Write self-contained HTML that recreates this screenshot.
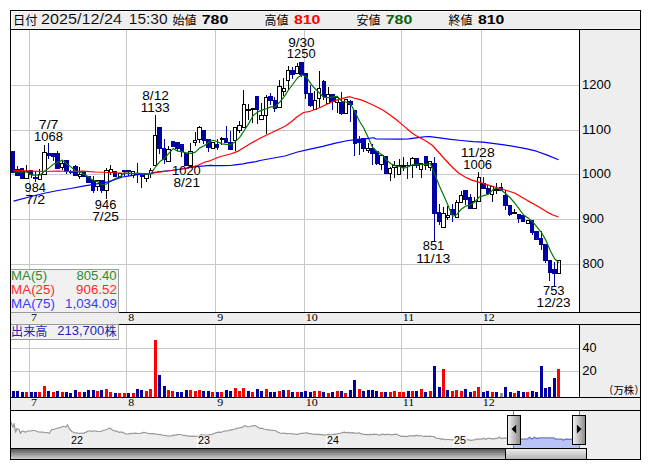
<!DOCTYPE html>
<html><head><meta charset="utf-8"><title>chart</title>
<style>html,body{margin:0;padding:0;background:#fff}svg{display:block}text{font-family:"Liberation Sans",sans-serif}</style></head>
<body>
<svg width="653" height="470" viewBox="0 0 653 470" font-family="'Liberation Sans', sans-serif">
<defs>
<linearGradient id="hdr" x1="0" y1="0" x2="0" y2="1"><stop offset="0" stop-color="#f4f4f4"/><stop offset="1" stop-color="#e9e9e9"/></linearGradient>
<linearGradient id="hnd" x1="0" y1="0" x2="1" y2="0"><stop offset="0" stop-color="#f2f2f2"/><stop offset="1" stop-color="#8c8c8c"/></linearGradient>
<linearGradient id="trk" x1="0" y1="0" x2="0" y2="1"><stop offset="0" stop-color="#4a4a4a"/><stop offset="1" stop-color="#d0d0d0"/></linearGradient>
<linearGradient id="thm" x1="0" y1="0" x2="0" y2="1"><stop offset="0" stop-color="#ececec"/><stop offset="1" stop-color="#b4b4b4"/></linearGradient>
</defs>
<rect width="653" height="470" fill="#fff"/>
<g shape-rendering="crispEdges">
<rect x="10" y="10" width="631" height="19" fill="#eeeeee"/>
<rect x="579" y="29" width="61" height="430" fill="#eeeeee"/>
<rect x="10" y="312" width="630" height="13" fill="#eeeeee"/>
<rect x="10" y="397" width="630" height="14" fill="#eeeeee"/>
<rect x="11" y="11" width="629" height="1" fill="#fff"/>
<rect x="11" y="11" width="1" height="18" fill="#fff"/>
<rect x="12" y="28" width="628" height="1" fill="#f6f6f6"/>
<rect x="29" y="30" width="1" height="282" fill="#c8c8c8"/>
<rect x="29" y="325" width="1" height="72" fill="#c8c8c8"/>
<rect x="126" y="30" width="1" height="282" fill="#c8c8c8"/>
<rect x="126" y="325" width="1" height="72" fill="#c8c8c8"/>
<rect x="215" y="30" width="1" height="282" fill="#c8c8c8"/>
<rect x="215" y="325" width="1" height="72" fill="#c8c8c8"/>
<rect x="304" y="30" width="1" height="282" fill="#c8c8c8"/>
<rect x="304" y="325" width="1" height="72" fill="#c8c8c8"/>
<rect x="401" y="30" width="1" height="282" fill="#c8c8c8"/>
<rect x="401" y="325" width="1" height="72" fill="#c8c8c8"/>
<rect x="481" y="30" width="1" height="282" fill="#c8c8c8"/>
<rect x="481" y="325" width="1" height="72" fill="#c8c8c8"/>
<rect x="11" y="85" width="568" height="1" fill="#c8c8c8"/>
<rect x="11" y="130" width="568" height="1" fill="#c8c8c8"/>
<rect x="11" y="174" width="568" height="1" fill="#c8c8c8"/>
<rect x="11" y="219" width="568" height="1" fill="#c8c8c8"/>
<rect x="11" y="264" width="568" height="1" fill="#c8c8c8"/>
<rect x="11" y="348" width="568" height="1" fill="#c8c8c8"/>
<rect x="11" y="371" width="568" height="1" fill="#c8c8c8"/>
</g>
<g shape-rendering="crispEdges">
<rect x="13" y="151" width="1" height="22" fill="#0000a3"/>
<rect x="11" y="151" width="4" height="22" fill="#0000a3"/>
<rect x="17" y="166" width="1" height="10" fill="#0000a3"/>
<rect x="15" y="169" width="5" height="7" fill="#0000a3"/>
<rect x="22" y="168" width="1" height="11" fill="#0000a3"/>
<rect x="20" y="168" width="4" height="11" fill="#0000a3"/>
<rect x="26" y="165" width="1" height="14" fill="#000"/>
<rect x="24" y="171" width="5" height="8" fill="#000"/>
<rect x="25" y="172" width="3" height="6" fill="#fff"/>
<rect x="31" y="170" width="1" height="8" fill="#0000a3"/>
<rect x="29" y="170" width="4" height="5" fill="#0000a3"/>
<rect x="35" y="171" width="1" height="11" fill="#0000a3"/>
<rect x="33" y="177" width="5" height="2" fill="#0000a3"/>
<rect x="39" y="169" width="1" height="11" fill="#000"/>
<rect x="38" y="174" width="4" height="6" fill="#000"/>
<rect x="39" y="175" width="2" height="4" fill="#fff"/>
<rect x="44" y="145" width="1" height="30" fill="#000"/>
<rect x="42" y="152" width="5" height="23" fill="#000"/>
<rect x="43" y="153" width="3" height="21" fill="#fff"/>
<rect x="48" y="143" width="1" height="16" fill="#0000a3"/>
<rect x="47" y="153" width="4" height="3" fill="#0000a3"/>
<rect x="53" y="153" width="1" height="8" fill="#0000a3"/>
<rect x="51" y="153" width="4" height="4" fill="#0000a3"/>
<rect x="57" y="151" width="1" height="18" fill="#0000a3"/>
<rect x="55" y="153" width="5" height="16" fill="#0000a3"/>
<rect x="62" y="160" width="1" height="10" fill="#000"/>
<rect x="60" y="163" width="4" height="5" fill="#000"/>
<rect x="61" y="164" width="2" height="3" fill="#fff"/>
<rect x="66" y="160" width="1" height="14" fill="#0000a3"/>
<rect x="64" y="160" width="5" height="12" fill="#0000a3"/>
<rect x="70" y="170" width="1" height="4" fill="#0000a3"/>
<rect x="69" y="171" width="4" height="2" fill="#0000a3"/>
<rect x="75" y="165" width="1" height="11" fill="#0000a3"/>
<rect x="73" y="166" width="5" height="10" fill="#0000a3"/>
<rect x="79" y="167" width="1" height="12" fill="#000"/>
<rect x="78" y="174" width="4" height="3" fill="#000"/>
<rect x="79" y="175" width="2" height="1" fill="#fff"/>
<rect x="84" y="171" width="1" height="6" fill="#0000a3"/>
<rect x="82" y="171" width="4" height="6" fill="#0000a3"/>
<rect x="88" y="176" width="1" height="7" fill="#0000a3"/>
<rect x="86" y="176" width="5" height="7" fill="#0000a3"/>
<rect x="93" y="176" width="1" height="17" fill="#0000a3"/>
<rect x="91" y="180" width="4" height="11" fill="#0000a3"/>
<rect x="97" y="180" width="1" height="11" fill="#000"/>
<rect x="95" y="180" width="5" height="7" fill="#000"/>
<rect x="96" y="181" width="3" height="5" fill="#fff"/>
<rect x="101" y="180" width="1" height="13" fill="#0000a3"/>
<rect x="100" y="180" width="4" height="11" fill="#0000a3"/>
<rect x="106" y="168" width="1" height="31" fill="#000"/>
<rect x="104" y="170" width="5" height="21" fill="#000"/>
<rect x="105" y="171" width="3" height="19" fill="#fff"/>
<rect x="110" y="165" width="1" height="10" fill="#000"/>
<rect x="109" y="169" width="4" height="4" fill="#000"/>
<rect x="110" y="170" width="2" height="2" fill="#fff"/>
<rect x="115" y="171" width="1" height="6" fill="#0000a3"/>
<rect x="113" y="171" width="4" height="6" fill="#0000a3"/>
<rect x="119" y="173" width="1" height="4" fill="#000"/>
<rect x="118" y="173" width="4" height="4" fill="#000"/>
<rect x="119" y="174" width="2" height="2" fill="#fff"/>
<rect x="124" y="170" width="1" height="6" fill="#0000a3"/>
<rect x="122" y="170" width="4" height="2" fill="#0000a3"/>
<rect x="128" y="170" width="1" height="6" fill="#0000a3"/>
<rect x="126" y="170" width="5" height="2" fill="#0000a3"/>
<rect x="133" y="171" width="1" height="7" fill="#000"/>
<rect x="131" y="171" width="4" height="5" fill="#000"/>
<rect x="132" y="172" width="2" height="3" fill="#fff"/>
<rect x="137" y="163" width="1" height="20" fill="#0000a3"/>
<rect x="135" y="173" width="5" height="2" fill="#0000a3"/>
<rect x="141" y="175" width="1" height="13" fill="#0000a3"/>
<rect x="140" y="175" width="4" height="2" fill="#0000a3"/>
<rect x="146" y="174" width="1" height="8" fill="#000"/>
<rect x="144" y="174" width="5" height="5" fill="#000"/>
<rect x="145" y="175" width="3" height="3" fill="#fff"/>
<rect x="150" y="168" width="1" height="10" fill="#000"/>
<rect x="149" y="170" width="4" height="4" fill="#000"/>
<rect x="150" y="171" width="2" height="2" fill="#fff"/>
<rect x="155" y="115" width="1" height="51" fill="#000"/>
<rect x="153" y="135" width="4" height="31" fill="#000"/>
<rect x="154" y="136" width="2" height="29" fill="#fff"/>
<rect x="159" y="127" width="1" height="27" fill="#0000a3"/>
<rect x="157" y="127" width="5" height="22" fill="#0000a3"/>
<rect x="164" y="139" width="1" height="25" fill="#0000a3"/>
<rect x="162" y="148" width="4" height="12" fill="#0000a3"/>
<rect x="168" y="146" width="1" height="16" fill="#000"/>
<rect x="166" y="149" width="5" height="13" fill="#000"/>
<rect x="167" y="150" width="3" height="11" fill="#fff"/>
<rect x="172" y="141" width="1" height="6" fill="#0000a3"/>
<rect x="171" y="141" width="4" height="6" fill="#0000a3"/>
<rect x="177" y="142" width="1" height="9" fill="#0000a3"/>
<rect x="175" y="142" width="5" height="7" fill="#0000a3"/>
<rect x="181" y="144" width="1" height="13" fill="#0000a3"/>
<rect x="180" y="144" width="4" height="8" fill="#0000a3"/>
<rect x="186" y="153" width="1" height="13" fill="#0000a3"/>
<rect x="184" y="153" width="4" height="13" fill="#0000a3"/>
<rect x="190" y="143" width="1" height="23" fill="#000"/>
<rect x="188" y="151" width="5" height="15" fill="#000"/>
<rect x="189" y="152" width="3" height="13" fill="#fff"/>
<rect x="195" y="132" width="1" height="14" fill="#000"/>
<rect x="193" y="140" width="4" height="3" fill="#000"/>
<rect x="194" y="141" width="2" height="1" fill="#fff"/>
<rect x="199" y="126" width="1" height="17" fill="#000"/>
<rect x="197" y="127" width="5" height="13" fill="#000"/>
<rect x="198" y="128" width="3" height="11" fill="#fff"/>
<rect x="203" y="130" width="1" height="14" fill="#0000a3"/>
<rect x="202" y="130" width="4" height="11" fill="#0000a3"/>
<rect x="208" y="139" width="1" height="13" fill="#0000a3"/>
<rect x="206" y="139" width="5" height="9" fill="#0000a3"/>
<rect x="212" y="142" width="1" height="7" fill="#000"/>
<rect x="211" y="142" width="4" height="7" fill="#000"/>
<rect x="212" y="143" width="2" height="5" fill="#fff"/>
<rect x="217" y="139" width="1" height="11" fill="#0000a3"/>
<rect x="215" y="144" width="4" height="4" fill="#0000a3"/>
<rect x="221" y="137" width="1" height="8" fill="#000"/>
<rect x="220" y="138" width="4" height="2" fill="#000"/>
<rect x="226" y="126" width="1" height="17" fill="#0000a3"/>
<rect x="224" y="138" width="4" height="5" fill="#0000a3"/>
<rect x="230" y="131" width="1" height="19" fill="#0000a3"/>
<rect x="228" y="142" width="5" height="8" fill="#0000a3"/>
<rect x="235" y="127" width="1" height="24" fill="#000"/>
<rect x="233" y="127" width="4" height="14" fill="#000"/>
<rect x="234" y="128" width="2" height="12" fill="#fff"/>
<rect x="239" y="121" width="1" height="12" fill="#000"/>
<rect x="237" y="125" width="5" height="6" fill="#000"/>
<rect x="238" y="126" width="3" height="4" fill="#fff"/>
<rect x="243" y="90" width="1" height="38" fill="#000"/>
<rect x="242" y="104" width="4" height="24" fill="#000"/>
<rect x="243" y="105" width="2" height="22" fill="#fff"/>
<rect x="248" y="104" width="1" height="16" fill="#000"/>
<rect x="246" y="109" width="5" height="2" fill="#000"/>
<rect x="252" y="108" width="1" height="15" fill="#000"/>
<rect x="251" y="108" width="4" height="2" fill="#000"/>
<rect x="257" y="96" width="1" height="28" fill="#0000a3"/>
<rect x="255" y="96" width="4" height="14" fill="#0000a3"/>
<rect x="261" y="103" width="1" height="17" fill="#000"/>
<rect x="259" y="115" width="5" height="5" fill="#000"/>
<rect x="260" y="116" width="3" height="3" fill="#fff"/>
<rect x="266" y="95" width="1" height="39" fill="#000"/>
<rect x="264" y="97" width="4" height="19" fill="#000"/>
<rect x="265" y="98" width="2" height="17" fill="#fff"/>
<rect x="270" y="93" width="1" height="12" fill="#0000a3"/>
<rect x="268" y="96" width="5" height="5" fill="#0000a3"/>
<rect x="274" y="97" width="1" height="15" fill="#0000a3"/>
<rect x="273" y="100" width="4" height="9" fill="#0000a3"/>
<rect x="279" y="80" width="1" height="28" fill="#000"/>
<rect x="277" y="86" width="5" height="22" fill="#000"/>
<rect x="278" y="87" width="3" height="20" fill="#fff"/>
<rect x="283" y="78" width="1" height="18" fill="#000"/>
<rect x="282" y="88" width="4" height="4" fill="#000"/>
<rect x="283" y="89" width="2" height="2" fill="#fff"/>
<rect x="288" y="66" width="1" height="24" fill="#000"/>
<rect x="286" y="70" width="4" height="11" fill="#000"/>
<rect x="287" y="71" width="2" height="9" fill="#fff"/>
<rect x="292" y="67" width="1" height="12" fill="#0000a3"/>
<rect x="290" y="70" width="5" height="5" fill="#0000a3"/>
<rect x="297" y="63" width="1" height="11" fill="#000"/>
<rect x="295" y="66" width="4" height="8" fill="#000"/>
<rect x="296" y="67" width="2" height="6" fill="#fff"/>
<rect x="301" y="62" width="1" height="15" fill="#0000a3"/>
<rect x="299" y="62" width="5" height="13" fill="#0000a3"/>
<rect x="305" y="73" width="1" height="26" fill="#0000a3"/>
<rect x="304" y="73" width="4" height="21" fill="#0000a3"/>
<rect x="310" y="85" width="1" height="22" fill="#0000a3"/>
<rect x="308" y="93" width="5" height="13" fill="#0000a3"/>
<rect x="314" y="91" width="1" height="19" fill="#000"/>
<rect x="313" y="100" width="4" height="10" fill="#000"/>
<rect x="314" y="101" width="2" height="8" fill="#fff"/>
<rect x="319" y="71" width="1" height="37" fill="#000"/>
<rect x="317" y="88" width="4" height="11" fill="#000"/>
<rect x="318" y="89" width="2" height="9" fill="#fff"/>
<rect x="323" y="80" width="1" height="20" fill="#0000a3"/>
<rect x="322" y="81" width="4" height="16" fill="#0000a3"/>
<rect x="328" y="87" width="1" height="17" fill="#000"/>
<rect x="326" y="94" width="4" height="10" fill="#000"/>
<rect x="327" y="95" width="2" height="8" fill="#fff"/>
<rect x="332" y="94" width="1" height="16" fill="#0000a3"/>
<rect x="330" y="94" width="5" height="8" fill="#0000a3"/>
<rect x="337" y="97" width="1" height="16" fill="#000"/>
<rect x="335" y="97" width="4" height="6" fill="#000"/>
<rect x="336" y="98" width="2" height="4" fill="#fff"/>
<rect x="341" y="92" width="1" height="23" fill="#0000a3"/>
<rect x="339" y="102" width="5" height="12" fill="#0000a3"/>
<rect x="345" y="99" width="1" height="15" fill="#000"/>
<rect x="344" y="99" width="4" height="15" fill="#000"/>
<rect x="345" y="100" width="2" height="13" fill="#fff"/>
<rect x="350" y="100" width="1" height="22" fill="#0000a3"/>
<rect x="348" y="101" width="5" height="4" fill="#0000a3"/>
<rect x="354" y="110" width="1" height="46" fill="#0000a3"/>
<rect x="353" y="110" width="4" height="34" fill="#0000a3"/>
<rect x="359" y="136" width="1" height="19" fill="#0000a3"/>
<rect x="357" y="139" width="4" height="4" fill="#0000a3"/>
<rect x="363" y="138" width="1" height="14" fill="#0000a3"/>
<rect x="361" y="138" width="5" height="11" fill="#0000a3"/>
<rect x="368" y="143" width="1" height="10" fill="#000"/>
<rect x="366" y="148" width="4" height="3" fill="#000"/>
<rect x="367" y="149" width="2" height="1" fill="#fff"/>
<rect x="372" y="144" width="1" height="21" fill="#0000a3"/>
<rect x="370" y="148" width="5" height="6" fill="#0000a3"/>
<rect x="376" y="151" width="1" height="14" fill="#0000a3"/>
<rect x="375" y="151" width="4" height="13" fill="#0000a3"/>
<rect x="381" y="155" width="1" height="15" fill="#000"/>
<rect x="379" y="155" width="5" height="10" fill="#000"/>
<rect x="380" y="156" width="3" height="8" fill="#fff"/>
<rect x="385" y="156" width="1" height="18" fill="#0000a3"/>
<rect x="384" y="156" width="4" height="18" fill="#0000a3"/>
<rect x="390" y="167" width="1" height="14" fill="#000"/>
<rect x="388" y="168" width="4" height="6" fill="#000"/>
<rect x="389" y="169" width="2" height="4" fill="#fff"/>
<rect x="394" y="161" width="1" height="17" fill="#000"/>
<rect x="392" y="165" width="5" height="3" fill="#000"/>
<rect x="393" y="166" width="3" height="1" fill="#fff"/>
<rect x="399" y="159" width="1" height="16" fill="#000"/>
<rect x="397" y="165" width="4" height="10" fill="#000"/>
<rect x="398" y="166" width="2" height="8" fill="#fff"/>
<rect x="403" y="157" width="1" height="14" fill="#000"/>
<rect x="401" y="165" width="5" height="2" fill="#000"/>
<rect x="407" y="162" width="1" height="17" fill="#0000a3"/>
<rect x="406" y="165" width="4" height="1" fill="#0000a3"/>
<rect x="412" y="157" width="1" height="21" fill="#000"/>
<rect x="410" y="158" width="5" height="8" fill="#000"/>
<rect x="411" y="159" width="3" height="6" fill="#fff"/>
<rect x="416" y="158" width="1" height="10" fill="#0000a3"/>
<rect x="415" y="158" width="4" height="8" fill="#0000a3"/>
<rect x="421" y="163" width="1" height="15" fill="#000"/>
<rect x="419" y="163" width="4" height="7" fill="#000"/>
<rect x="420" y="164" width="2" height="5" fill="#fff"/>
<rect x="425" y="156" width="1" height="14" fill="#0000a3"/>
<rect x="424" y="156" width="4" height="10" fill="#0000a3"/>
<rect x="430" y="161" width="1" height="10" fill="#000"/>
<rect x="428" y="161" width="4" height="7" fill="#000"/>
<rect x="429" y="162" width="2" height="5" fill="#fff"/>
<rect x="434" y="157" width="1" height="84" fill="#0000a3"/>
<rect x="432" y="163" width="5" height="51" fill="#0000a3"/>
<rect x="439" y="204" width="1" height="21" fill="#0000a3"/>
<rect x="437" y="212" width="4" height="10" fill="#0000a3"/>
<rect x="443" y="207" width="1" height="21" fill="#000"/>
<rect x="441" y="213" width="5" height="15" fill="#000"/>
<rect x="442" y="214" width="3" height="13" fill="#fff"/>
<rect x="447" y="206" width="1" height="14" fill="#000"/>
<rect x="446" y="215" width="4" height="3" fill="#000"/>
<rect x="447" y="216" width="2" height="1" fill="#fff"/>
<rect x="452" y="204" width="1" height="18" fill="#0000a3"/>
<rect x="450" y="209" width="5" height="6" fill="#0000a3"/>
<rect x="456" y="200" width="1" height="18" fill="#000"/>
<rect x="455" y="202" width="4" height="16" fill="#000"/>
<rect x="456" y="203" width="2" height="14" fill="#fff"/>
<rect x="461" y="191" width="1" height="12" fill="#000"/>
<rect x="459" y="195" width="4" height="8" fill="#000"/>
<rect x="460" y="196" width="2" height="6" fill="#fff"/>
<rect x="465" y="190" width="1" height="15" fill="#0000a3"/>
<rect x="463" y="190" width="5" height="10" fill="#0000a3"/>
<rect x="470" y="194" width="1" height="15" fill="#0000a3"/>
<rect x="468" y="197" width="4" height="12" fill="#0000a3"/>
<rect x="474" y="197" width="1" height="12" fill="#000"/>
<rect x="472" y="201" width="5" height="8" fill="#000"/>
<rect x="473" y="202" width="3" height="6" fill="#fff"/>
<rect x="478" y="172" width="1" height="30" fill="#000"/>
<rect x="477" y="177" width="4" height="25" fill="#000"/>
<rect x="478" y="178" width="2" height="23" fill="#fff"/>
<rect x="483" y="177" width="1" height="12" fill="#0000a3"/>
<rect x="481" y="183" width="5" height="6" fill="#0000a3"/>
<rect x="487" y="185" width="1" height="10" fill="#0000a3"/>
<rect x="486" y="188" width="4" height="6" fill="#0000a3"/>
<rect x="492" y="186" width="1" height="16" fill="#000"/>
<rect x="490" y="186" width="4" height="9" fill="#000"/>
<rect x="491" y="187" width="2" height="7" fill="#fff"/>
<rect x="496" y="183" width="1" height="11" fill="#000"/>
<rect x="494" y="189" width="5" height="2" fill="#000"/>
<rect x="501" y="183" width="1" height="8" fill="#0000a3"/>
<rect x="499" y="187" width="4" height="4" fill="#0000a3"/>
<rect x="505" y="190" width="1" height="20" fill="#0000a3"/>
<rect x="503" y="195" width="5" height="11" fill="#0000a3"/>
<rect x="509" y="205" width="1" height="11" fill="#0000a3"/>
<rect x="508" y="205" width="4" height="10" fill="#0000a3"/>
<rect x="514" y="209" width="1" height="4" fill="#000"/>
<rect x="512" y="212" width="5" height="2" fill="#000"/>
<rect x="518" y="214" width="1" height="9" fill="#0000a3"/>
<rect x="517" y="214" width="4" height="5" fill="#0000a3"/>
<rect x="523" y="215" width="1" height="7" fill="#0000a3"/>
<rect x="521" y="215" width="4" height="7" fill="#0000a3"/>
<rect x="527" y="220" width="1" height="4" fill="#000"/>
<rect x="526" y="220" width="4" height="4" fill="#000"/>
<rect x="527" y="221" width="2" height="2" fill="#fff"/>
<rect x="532" y="220" width="1" height="15" fill="#0000a3"/>
<rect x="530" y="220" width="4" height="13" fill="#0000a3"/>
<rect x="536" y="231" width="1" height="9" fill="#0000a3"/>
<rect x="534" y="231" width="5" height="9" fill="#0000a3"/>
<rect x="541" y="231" width="1" height="19" fill="#0000a3"/>
<rect x="539" y="238" width="4" height="7" fill="#0000a3"/>
<rect x="545" y="244" width="1" height="19" fill="#0000a3"/>
<rect x="543" y="244" width="5" height="17" fill="#0000a3"/>
<rect x="549" y="260" width="1" height="21" fill="#0000a3"/>
<rect x="548" y="260" width="4" height="13" fill="#0000a3"/>
<rect x="554" y="262" width="1" height="24" fill="#0000a3"/>
<rect x="552" y="269" width="5" height="5" fill="#0000a3"/>
<rect x="558" y="260" width="1" height="14" fill="#000"/>
<rect x="557" y="260" width="4" height="14" fill="#000"/>
<rect x="558" y="261" width="2" height="12" fill="#fff"/>
</g>
<polyline fill="none" stroke="#007800" stroke-width="1.2" stroke-linejoin="round" points="13.6,171.8 18.0,171.8 22.4,171.8 26.9,172.0 31.3,175.1 35.7,175.2 40.2,175.0 44.6,171.0 49.0,167.9 53.5,164.2 57.9,162.2 62.3,160.1 66.8,163.7 71.2,167.1 75.6,171.0 80.1,172.1 84.5,174.8 89.0,177.1 93.4,180.6 97.8,181.7 102.3,185.0 106.7,183.8 111.1,181.1 115.6,178.4 120.0,176.9 124.4,173.0 128.9,173.2 133.3,173.6 137.7,173.1 142.2,173.7 146.6,174.4 151.0,174.0 155.5,166.8 159.9,161.6 164.3,158.4 168.8,153.3 173.2,148.6 177.7,151.2 182.1,151.8 186.5,152.9 191.0,153.3 195.4,152.1 199.8,147.9 204.3,145.8 208.7,142.2 213.1,140.3 217.6,141.7 222.0,143.9 226.4,144.3 230.9,144.6 235.3,141.7 239.7,137.3 244.2,130.5 248.6,123.9 253.0,115.7 257.5,112.1 261.9,110.1 266.4,108.7 270.8,106.9 275.2,106.9 279.7,102.2 284.1,96.8 288.5,90.0 293.0,84.0 297.4,78.0 301.8,74.7 306.3,76.7 310.7,83.6 315.1,88.8 319.6,93.2 324.0,97.5 328.4,97.6 332.9,96.9 337.3,96.3 341.8,101.4 346.2,102.0 350.6,104.0 355.1,112.3 359.5,121.3 363.9,128.2 368.4,138.1 372.8,147.8 377.2,151.7 381.7,154.4 386.1,159.5 390.5,163.5 395.0,165.8 399.4,166.4 403.8,168.3 408.3,166.7 412.7,164.7 417.1,164.8 421.6,164.4 426.0,164.4 430.4,163.5 434.9,174.5 439.3,185.8 443.8,195.8 448.2,205.8 452.6,216.5 457.1,214.2 461.5,208.9 465.9,206.1 470.4,204.7 474.8,202.0 479.2,197.0 483.7,195.7 488.1,194.5 492.5,190.1 497.0,187.7 501.4,190.3 505.8,193.7 510.3,197.8 514.7,203.0 519.1,208.8 523.6,215.0 528.0,217.9 532.5,221.6 536.9,226.9 541.3,232.3 545.8,240.1 550.2,250.5 554.6,258.7 559.1,262.9"/>
<polyline fill="none" stroke="#0000ff" stroke-width="1.2" stroke-linejoin="round" points="13.5,201.2 33.0,196.0 45.5,193.0 58.0,190.5 70.5,188.5 83.0,186.2 95.5,184.2 108.0,181.9 115.2,179.5 122.5,177.0 129.7,175.8 137.0,174.7 145.5,173.8 151.4,173.0 158.0,171.9 170.5,170.5 185.0,168.5 197.5,166.3 205.0,165.8 210.0,165.3 215.0,165.7 220.0,165.7 230.5,165.5 235.0,164.9 243.3,163.9 247.5,162.9 256.0,161.6 260.0,160.5 271.0,158.5 285.0,156.0 297.5,152.0 310.0,149.1 322.8,146.4 335.5,143.1 348.3,140.5 357.8,139.3 365.0,138.8 371.3,138.0 373.5,137.8 376.0,139.0 399.4,139.1 408.9,138.9 412.2,138.4 420.0,137.4 427.3,136.5 430.0,136.7 437.7,137.7 450.5,139.3 461.4,140.5 473.0,141.7 482.9,142.1 504.3,144.8 525.8,148.7 536.5,151.2 547.2,155.1 558.6,159.8"/>
<polyline fill="none" stroke="#ff0000" stroke-width="1.2" stroke-linejoin="round" points="13.5,170.5 25.0,170.8 33.0,171.2 45.0,171.5 58.0,171.0 70.0,171.5 83.0,171.2 95.0,172.0 108.0,172.5 120.0,173.0 133.0,173.5 150.5,173.5 160.0,172.0 172.5,170.5 185.0,168.5 197.5,165.5 205.0,162.0 210.0,160.8 217.8,157.5 222.5,156.0 230.5,154.0 238.2,151.1 241.2,149.2 249.7,144.1 260.0,138.3 272.5,132.3 285.0,126.3 291.0,122.0 297.5,116.5 303.7,112.5 310.0,111.3 319.5,107.7 328.0,103.8 335.5,100.4 343.5,98.1 349.8,96.7 356.3,98.7 361.1,99.9 369.1,103.2 376.0,106.5 383.6,110.5 390.0,115.0 396.1,119.5 403.7,125.9 411.0,132.3 415.8,135.5 425.1,140.5 432.6,145.5 445.5,160.0 453.1,168.0 458.3,172.7 465.0,177.0 471.1,179.9 482.8,183.4 495.5,187.2 508.3,191.0 514.7,193.0 521.1,196.8 527.5,200.6 536.0,205.3 547.2,212.1 553.0,215.0 558.6,217.0"/>
<text x="34.05" y="140.70" font-size="12.0" fill="#000" textLength="28.84" lengthAdjust="spacingAndGlyphs">1068</text>
<text x="38.81" y="128.70" font-size="12.0" fill="#000" textLength="19.71" lengthAdjust="spacingAndGlyphs">7/7</text>
<text x="24.55" y="191.90" font-size="12.0" fill="#000" textLength="21.30" lengthAdjust="spacingAndGlyphs">984</text>
<text x="25.41" y="203.90" font-size="12.0" fill="#000" textLength="19.71" lengthAdjust="spacingAndGlyphs">7/2</text>
<text x="94.84" y="208.60" font-size="12.0" fill="#000" textLength="21.50" lengthAdjust="spacingAndGlyphs">946</text>
<text x="92.24" y="220.60" font-size="12.0" fill="#000" textLength="26.60" lengthAdjust="spacingAndGlyphs">7/25</text>
<text x="140.82" y="111.70" font-size="12.0" fill="#000" textLength="28.90" lengthAdjust="spacingAndGlyphs">1133</text>
<text x="142.28" y="99.70" font-size="12.0" fill="#000" textLength="26.53" lengthAdjust="spacingAndGlyphs">8/12</text>
<text x="172.05" y="175.20" font-size="12.0" fill="#000" textLength="28.77" lengthAdjust="spacingAndGlyphs">1020</text>
<text x="173.48" y="187.00" font-size="12.0" fill="#000" textLength="26.53" lengthAdjust="spacingAndGlyphs">8/21</text>
<text x="286.85" y="58.40" font-size="12.0" fill="#000" textLength="28.77" lengthAdjust="spacingAndGlyphs">1250</text>
<text x="288.21" y="46.60" font-size="12.0" fill="#000" textLength="26.46" lengthAdjust="spacingAndGlyphs">9/30</text>
<text x="422.81" y="250.40" font-size="12.0" fill="#000" textLength="21.50" lengthAdjust="spacingAndGlyphs">851</text>
<text x="416.28" y="262.80" font-size="12.0" fill="#000" textLength="34.00" lengthAdjust="spacingAndGlyphs">11/13</text>
<text x="463.25" y="168.70" font-size="12.0" fill="#000" textLength="28.84" lengthAdjust="spacingAndGlyphs">1006</text>
<text x="460.68" y="156.80" font-size="12.0" fill="#000" textLength="34.00" lengthAdjust="spacingAndGlyphs">11/28</text>
<text x="542.97" y="294.60" font-size="12.0" fill="#000" textLength="21.57" lengthAdjust="spacingAndGlyphs">753</text>
<text x="536.61" y="306.60" font-size="12.0" fill="#000" textLength="33.94" lengthAdjust="spacingAndGlyphs">12/23</text>
<g shape-rendering="crispEdges">
<rect x="12" y="391" width="3" height="6" fill="#0000a3"/>
<rect x="16" y="391" width="3" height="6" fill="#0000a3"/>
<rect x="21" y="392" width="3" height="5" fill="#0000a3"/>
<rect x="25" y="392" width="3" height="5" fill="#ff0000"/>
<rect x="30" y="392" width="3" height="5" fill="#0000a3"/>
<rect x="34" y="392" width="3" height="5" fill="#0000a3"/>
<rect x="38" y="392" width="3" height="5" fill="#ff0000"/>
<rect x="43" y="386" width="3" height="11" fill="#ff0000"/>
<rect x="47" y="391" width="3" height="6" fill="#0000a3"/>
<rect x="52" y="392" width="3" height="5" fill="#ff0000"/>
<rect x="56" y="391" width="3" height="6" fill="#0000a3"/>
<rect x="61" y="392" width="3" height="5" fill="#ff0000"/>
<rect x="65" y="392" width="3" height="5" fill="#0000a3"/>
<rect x="69" y="393" width="3" height="4" fill="#0000a3"/>
<rect x="74" y="390" width="3" height="7" fill="#0000a3"/>
<rect x="78" y="392" width="3" height="5" fill="#ff0000"/>
<rect x="83" y="392" width="3" height="5" fill="#0000a3"/>
<rect x="87" y="390" width="3" height="7" fill="#0000a3"/>
<rect x="92" y="390" width="3" height="7" fill="#0000a3"/>
<rect x="96" y="391" width="3" height="6" fill="#ff0000"/>
<rect x="100" y="390" width="3" height="7" fill="#0000a3"/>
<rect x="105" y="389" width="3" height="8" fill="#ff0000"/>
<rect x="109" y="392" width="3" height="5" fill="#ff0000"/>
<rect x="114" y="393" width="3" height="4" fill="#0000a3"/>
<rect x="118" y="393" width="3" height="4" fill="#ff0000"/>
<rect x="123" y="393" width="3" height="4" fill="#ff0000"/>
<rect x="127" y="393" width="3" height="4" fill="#0000a3"/>
<rect x="132" y="393" width="3" height="4" fill="#ff0000"/>
<rect x="136" y="389" width="3" height="8" fill="#0000a3"/>
<rect x="140" y="390" width="3" height="7" fill="#0000a3"/>
<rect x="145" y="391" width="3" height="6" fill="#ff0000"/>
<rect x="149" y="389" width="3" height="8" fill="#ff0000"/>
<rect x="154" y="340" width="3" height="57" fill="#ff0000"/>
<rect x="158" y="375" width="3" height="22" fill="#0000a3"/>
<rect x="163" y="386" width="3" height="11" fill="#0000a3"/>
<rect x="167" y="390" width="3" height="7" fill="#ff0000"/>
<rect x="171" y="391" width="3" height="6" fill="#ff0000"/>
<rect x="176" y="392" width="3" height="5" fill="#0000a3"/>
<rect x="180" y="392" width="3" height="5" fill="#0000a3"/>
<rect x="185" y="390" width="3" height="7" fill="#0000a3"/>
<rect x="189" y="390" width="3" height="7" fill="#ff0000"/>
<rect x="194" y="391" width="3" height="6" fill="#ff0000"/>
<rect x="198" y="390" width="3" height="7" fill="#ff0000"/>
<rect x="202" y="391" width="3" height="6" fill="#0000a3"/>
<rect x="207" y="391" width="3" height="6" fill="#0000a3"/>
<rect x="211" y="392" width="3" height="5" fill="#ff0000"/>
<rect x="216" y="392" width="3" height="5" fill="#0000a3"/>
<rect x="220" y="392" width="3" height="5" fill="#ff0000"/>
<rect x="225" y="390" width="3" height="7" fill="#0000a3"/>
<rect x="229" y="391" width="3" height="6" fill="#0000a3"/>
<rect x="234" y="388" width="3" height="9" fill="#ff0000"/>
<rect x="238" y="391" width="3" height="6" fill="#ff0000"/>
<rect x="242" y="388" width="3" height="9" fill="#ff0000"/>
<rect x="247" y="391" width="3" height="6" fill="#0000a3"/>
<rect x="251" y="392" width="3" height="5" fill="#ff0000"/>
<rect x="256" y="389" width="3" height="8" fill="#0000a3"/>
<rect x="260" y="391" width="3" height="6" fill="#0000a3"/>
<rect x="265" y="389" width="3" height="8" fill="#ff0000"/>
<rect x="269" y="392" width="3" height="5" fill="#0000a3"/>
<rect x="273" y="392" width="3" height="5" fill="#0000a3"/>
<rect x="278" y="391" width="3" height="6" fill="#ff0000"/>
<rect x="282" y="390" width="3" height="7" fill="#0000a3"/>
<rect x="287" y="390" width="3" height="7" fill="#ff0000"/>
<rect x="291" y="392" width="3" height="5" fill="#0000a3"/>
<rect x="296" y="392" width="3" height="5" fill="#ff0000"/>
<rect x="300" y="392" width="3" height="5" fill="#0000a3"/>
<rect x="304" y="391" width="3" height="6" fill="#0000a3"/>
<rect x="309" y="392" width="3" height="5" fill="#0000a3"/>
<rect x="313" y="391" width="3" height="6" fill="#ff0000"/>
<rect x="318" y="391" width="3" height="6" fill="#ff0000"/>
<rect x="322" y="392" width="3" height="5" fill="#0000a3"/>
<rect x="327" y="393" width="3" height="4" fill="#ff0000"/>
<rect x="331" y="392" width="3" height="5" fill="#0000a3"/>
<rect x="336" y="391" width="3" height="6" fill="#ff0000"/>
<rect x="340" y="391" width="3" height="6" fill="#0000a3"/>
<rect x="344" y="393" width="3" height="4" fill="#ff0000"/>
<rect x="349" y="390" width="3" height="7" fill="#0000a3"/>
<rect x="353" y="380" width="3" height="17" fill="#0000a3"/>
<rect x="358" y="389" width="3" height="8" fill="#ff0000"/>
<rect x="362" y="391" width="3" height="6" fill="#0000a3"/>
<rect x="367" y="390" width="3" height="7" fill="#0000a3"/>
<rect x="371" y="390" width="3" height="7" fill="#0000a3"/>
<rect x="375" y="391" width="3" height="6" fill="#0000a3"/>
<rect x="380" y="392" width="3" height="5" fill="#ff0000"/>
<rect x="384" y="392" width="3" height="5" fill="#0000a3"/>
<rect x="389" y="392" width="3" height="5" fill="#ff0000"/>
<rect x="393" y="391" width="3" height="6" fill="#ff0000"/>
<rect x="398" y="392" width="3" height="5" fill="#ff0000"/>
<rect x="402" y="392" width="3" height="5" fill="#ff0000"/>
<rect x="407" y="391" width="3" height="6" fill="#0000a3"/>
<rect x="411" y="391" width="3" height="6" fill="#ff0000"/>
<rect x="415" y="391" width="3" height="6" fill="#0000a3"/>
<rect x="420" y="389" width="3" height="8" fill="#ff0000"/>
<rect x="424" y="392" width="3" height="5" fill="#0000a3"/>
<rect x="429" y="391" width="3" height="6" fill="#ff0000"/>
<rect x="433" y="366" width="3" height="31" fill="#0000a3"/>
<rect x="438" y="387" width="3" height="10" fill="#0000a3"/>
<rect x="442" y="369" width="3" height="28" fill="#ff0000"/>
<rect x="446" y="390" width="3" height="7" fill="#0000a3"/>
<rect x="451" y="391" width="3" height="6" fill="#ff0000"/>
<rect x="455" y="390" width="3" height="7" fill="#ff0000"/>
<rect x="460" y="391" width="3" height="6" fill="#ff0000"/>
<rect x="464" y="389" width="3" height="8" fill="#0000a3"/>
<rect x="469" y="392" width="3" height="5" fill="#0000a3"/>
<rect x="473" y="391" width="3" height="6" fill="#ff0000"/>
<rect x="477" y="387" width="3" height="10" fill="#ff0000"/>
<rect x="482" y="392" width="3" height="5" fill="#0000a3"/>
<rect x="486" y="391" width="3" height="6" fill="#0000a3"/>
<rect x="491" y="392" width="3" height="5" fill="#ff0000"/>
<rect x="495" y="392" width="3" height="5" fill="#0000a3"/>
<rect x="500" y="393" width="3" height="4" fill="#909090"/>
<rect x="504" y="387" width="3" height="10" fill="#0000a3"/>
<rect x="509" y="392" width="3" height="5" fill="#0000a3"/>
<rect x="513" y="393" width="3" height="4" fill="#ff0000"/>
<rect x="517" y="391" width="3" height="6" fill="#0000a3"/>
<rect x="522" y="392" width="3" height="5" fill="#0000a3"/>
<rect x="526" y="392" width="3" height="5" fill="#ff0000"/>
<rect x="531" y="391" width="3" height="6" fill="#0000a3"/>
<rect x="535" y="392" width="3" height="5" fill="#0000a3"/>
<rect x="540" y="366" width="3" height="31" fill="#0000a3"/>
<rect x="544" y="388" width="3" height="9" fill="#0000a3"/>
<rect x="548" y="387" width="3" height="10" fill="#0000a3"/>
<rect x="553" y="378" width="3" height="19" fill="#0000a3"/>
<rect x="557" y="369" width="3" height="28" fill="#ff0000"/>
</g>
<g shape-rendering="crispEdges">
<rect x="10" y="10" width="631" height="1" fill="#000"/>
<rect x="10" y="459" width="631" height="1" fill="#000"/>
<rect x="10" y="10" width="1" height="450" fill="#000"/>
<rect x="640" y="10" width="1" height="450" fill="#000"/>
<rect x="10" y="29" width="630" height="1" fill="#000"/>
<rect x="579" y="29" width="1" height="283" fill="#000"/>
<rect x="579" y="324" width="1" height="73" fill="#000"/>
<rect x="10" y="312" width="630" height="1" fill="#000"/>
<rect x="10" y="324" width="630" height="1" fill="#000"/>
<rect x="10" y="397" width="630" height="1" fill="#000"/>
<rect x="10" y="410" width="630" height="1" fill="#000"/>
</g>
<g shape-rendering="crispEdges">
<rect x="10" y="269" width="109" height="44" fill="#9a9a9a"/>
<rect x="11" y="270" width="107" height="42" fill="#f1f1f1"/>
<rect x="10" y="324" width="109" height="16" fill="#9a9a9a"/>
<rect x="11" y="325" width="107" height="14" fill="#f1f1f1"/>
<rect x="10" y="313" width="1" height="11" fill="#000"/>
</g>
<text x="11.14" y="280.00" font-size="12.0" fill="#2e8b2e" textLength="35.91" lengthAdjust="spacingAndGlyphs">MA(5)</text>
<text x="76.47" y="280.00" font-size="12.0" fill="#2e8b2e" textLength="40.17" lengthAdjust="spacingAndGlyphs">805.40</text>
<text x="11.13" y="293.90" font-size="12.0" fill="#ff2a2a" textLength="43.75" lengthAdjust="spacingAndGlyphs">MA(25)</text>
<text x="76.10" y="293.90" font-size="12.0" fill="#ff2a2a" textLength="40.68" lengthAdjust="spacingAndGlyphs">906.52</text>
<text x="11.13" y="307.70" font-size="12.0" fill="#3a3aff" textLength="43.75" lengthAdjust="spacingAndGlyphs">MA(75)</text>
<text x="65.10" y="307.70" font-size="12.0" fill="#3a3aff" textLength="51.73" lengthAdjust="spacingAndGlyphs">1,034.09</text>
<text x="11.10" y="336.10" font-size="12.1" fill="#2424b4" style="font-family:'Liberation Sans','Noto Sans CJK JP',sans-serif" textLength="36.30" lengthAdjust="spacingAndGlyphs">出来高</text>
<text x="57.25" y="335.40" font-size="12.0" fill="#2424b4" textLength="46.90" lengthAdjust="spacingAndGlyphs">213,700</text>
<text x="104.60" y="336.10" font-size="12.1" fill="#2424b4" style="font-family:'Liberation Sans','Noto Sans CJK JP',sans-serif">株</text>
<text x="13.00" y="25.30" font-size="12.2" fill="#000" style="font-family:'Liberation Sans','Noto Sans CJK JP',sans-serif" textLength="24.40" lengthAdjust="spacingAndGlyphs">日付</text>
<text x="41.09" y="23.60" font-size="13.9" fill="#000" stroke="#eeeeee" stroke-width="0.1" textLength="80.91" lengthAdjust="spacingAndGlyphs">2025/12/24</text>
<text x="128.84" y="23.60" font-size="13.9" fill="#000" stroke="#eeeeee" stroke-width="0.1" textLength="38.74" lengthAdjust="spacingAndGlyphs">15:30</text>
<text x="172.60" y="25.30" font-size="12.0" fill="#000" style="font-family:'Liberation Sans','Noto Sans CJK JP',sans-serif" textLength="24.00" lengthAdjust="spacingAndGlyphs">始値</text>
<text x="201.76" y="24.10" font-size="12.4" fill="#000" font-weight="bold" textLength="26.55" lengthAdjust="spacingAndGlyphs">780</text>
<text x="264.60" y="25.30" font-size="12.0" fill="#000" style="font-family:'Liberation Sans','Noto Sans CJK JP',sans-serif" textLength="24.00" lengthAdjust="spacingAndGlyphs">高値</text>
<text x="293.93" y="24.10" font-size="12.4" fill="#ff0000" font-weight="bold" textLength="26.38" lengthAdjust="spacingAndGlyphs">810</text>
<text x="356.60" y="25.30" font-size="12.0" fill="#000" style="font-family:'Liberation Sans','Noto Sans CJK JP',sans-serif" textLength="24.00" lengthAdjust="spacingAndGlyphs">安値</text>
<text x="385.76" y="24.10" font-size="12.4" fill="#0a640a" font-weight="bold" textLength="26.55" lengthAdjust="spacingAndGlyphs">780</text>
<text x="448.60" y="25.30" font-size="12.0" fill="#000" style="font-family:'Liberation Sans','Noto Sans CJK JP',sans-serif" textLength="24.00" lengthAdjust="spacingAndGlyphs">終値</text>
<text x="477.93" y="24.10" font-size="12.4" fill="#000" font-weight="bold" textLength="26.38" lengthAdjust="spacingAndGlyphs">810</text>
<text x="582.13" y="88.70" font-size="12.0" fill="#000" textLength="28.77" lengthAdjust="spacingAndGlyphs">1200</text>
<text x="582.09" y="133.70" font-size="12.0" fill="#000" textLength="28.83" lengthAdjust="spacingAndGlyphs">1100</text>
<text x="582.13" y="177.70" font-size="12.0" fill="#000" textLength="28.77" lengthAdjust="spacingAndGlyphs">1000</text>
<text x="582.52" y="222.70" font-size="12.0" fill="#000" textLength="21.43" lengthAdjust="spacingAndGlyphs">900</text>
<text x="582.59" y="267.70" font-size="12.0" fill="#000" textLength="21.36" lengthAdjust="spacingAndGlyphs">800</text>
<text x="582.55" y="351.70" font-size="12.0" fill="#000" textLength="14.09" lengthAdjust="spacingAndGlyphs">40</text>
<text x="582.15" y="374.70" font-size="12.0" fill="#000" textLength="14.50" lengthAdjust="spacingAndGlyphs">20</text>
<text x="609.67" y="393.30" font-size="10.5" fill="#000" textLength="2.96" lengthAdjust="spacingAndGlyphs">(</text>
<text x="613.40" y="394.40" font-size="10.4" fill="#000" style="font-family:'Liberation Sans','Noto Sans CJK JP',sans-serif" textLength="20.80" lengthAdjust="spacingAndGlyphs">万株</text>
<text x="634.96" y="393.30" font-size="10.5" fill="#000" textLength="2.84" lengthAdjust="spacingAndGlyphs">)</text>
<text x="30.92" y="320.90" font-size="10.4" fill="#000" font-family="'Liberation Serif', serif" style="font-family:'Liberation Serif',serif" textLength="5.98" lengthAdjust="spacingAndGlyphs">7</text>
<text x="30.92" y="405.90" font-size="10.4" fill="#000" font-family="'Liberation Serif', serif" style="font-family:'Liberation Serif',serif" textLength="5.98" lengthAdjust="spacingAndGlyphs">7</text>
<text x="128.28" y="320.90" font-size="10.4" fill="#000" font-family="'Liberation Serif', serif" style="font-family:'Liberation Serif',serif" textLength="5.98" lengthAdjust="spacingAndGlyphs">8</text>
<text x="128.28" y="405.90" font-size="10.4" fill="#000" font-family="'Liberation Serif', serif" style="font-family:'Liberation Serif',serif" textLength="5.98" lengthAdjust="spacingAndGlyphs">8</text>
<text x="217.34" y="320.90" font-size="10.4" fill="#000" font-family="'Liberation Serif', serif" style="font-family:'Liberation Serif',serif" textLength="5.98" lengthAdjust="spacingAndGlyphs">9</text>
<text x="217.34" y="405.90" font-size="10.4" fill="#000" font-family="'Liberation Serif', serif" style="font-family:'Liberation Serif',serif" textLength="5.98" lengthAdjust="spacingAndGlyphs">9</text>
<text x="305.68" y="320.90" font-size="10.4" fill="#000" font-family="'Liberation Serif', serif" style="font-family:'Liberation Serif',serif" textLength="11.96" lengthAdjust="spacingAndGlyphs">10</text>
<text x="305.68" y="405.90" font-size="10.4" fill="#000" font-family="'Liberation Serif', serif" style="font-family:'Liberation Serif',serif" textLength="11.96" lengthAdjust="spacingAndGlyphs">10</text>
<text x="402.68" y="320.90" font-size="10.4" fill="#000" font-family="'Liberation Serif', serif" style="font-family:'Liberation Serif',serif" textLength="11.52" lengthAdjust="spacingAndGlyphs">11</text>
<text x="402.68" y="405.90" font-size="10.4" fill="#000" font-family="'Liberation Serif', serif" style="font-family:'Liberation Serif',serif" textLength="11.52" lengthAdjust="spacingAndGlyphs">11</text>
<text x="482.68" y="320.90" font-size="10.4" fill="#000" font-family="'Liberation Serif', serif" style="font-family:'Liberation Serif',serif" textLength="11.96" lengthAdjust="spacingAndGlyphs">12</text>
<text x="482.68" y="405.90" font-size="10.4" fill="#000" font-family="'Liberation Serif', serif" style="font-family:'Liberation Serif',serif" textLength="11.96" lengthAdjust="spacingAndGlyphs">12</text>
<path fill="#ededed" d="M10.5,448 L10.5,422.5 L11.0,422.2 L13.0,427.2 L14.2,423.5 L15.5,432.2 L17.0,428.5 L19.2,429.7 L20.5,433.5 L22.0,431.0 L23.8,431.4 L25.5,432.2 L27.2,431.2 L29.0,431.0 L31.0,430.9 L33.0,430.5 L35.0,430.5 L37.0,431.5 L38.8,431.9 L40.5,432.2 L42.8,432.2 L45.0,432.5 L47.1,432.5 L49.2,433.5 L51.7,429.7 L53.4,429.4 L55.0,429.0 L58.0,428.0 L61.0,427.3 L62.6,426.4 L64.2,426.5 L66.0,427.0 L67.5,424.7 L69.2,428.5 L71.7,431.5 L73.6,432.2 L75.5,433.0 L77.2,432.8 L79.0,433.5 L81.0,433.0 L83.0,433.5 L84.7,432.6 L86.3,432.2 L88.0,431.0 L90.0,430.8 L92.0,431.5 L93.8,430.9 L95.5,431.0 L97.2,431.4 L99.0,431.5 L101.0,431.5 L103.0,430.5 L105.0,430.0 L107.0,429.3 L110.0,428.0 L113.0,430.5 L115.0,430.8 L117.0,431.3 L118.8,432.3 L120.5,432.2 L122.2,432.1 L124.0,433.0 L126.0,433.9 L128.0,434.0 L129.7,433.6 L131.3,433.3 L133.0,433.5 L134.7,433.1 L136.3,433.3 L138.0,433.5 L140.0,433.5 L142.0,432.8 L143.8,432.3 L145.5,432.5 L148.0,433.5 L149.7,433.6 L151.3,433.7 L153.0,433.5 L154.7,433.7 L156.3,434.2 L158.0,434.5 L159.7,434.4 L161.3,434.7 L163.0,435.5 L165.0,435.3 L167.0,435.8 L168.8,436.1 L170.5,436.0 L172.2,435.6 L174.0,435.1 L175.8,435.1 L177.5,434.7 L179.2,434.5 L181.0,434.5 L183.7,435.5 L185.8,435.4 L187.9,436.2 L190.0,436.0 L192.1,436.4 L194.1,436.1 L196.2,436.5 L198.0,436.1 L201.2,434.7 L203.1,435.0 L205.0,435.1 L206.7,435.0 L208.3,435.2 L210.0,434.7 L212.0,434.4 L214.0,433.5 L216.3,432.6 L218.7,432.2 L220.8,432.4 L223.0,431.5 L225.2,430.8 L227.5,431.0 L229.2,430.3 L231.0,429.8 L233.0,429.7 L235.0,429.0 L237.0,428.1 L239.0,428.0 L240.8,427.6 L242.5,427.2 L245.0,425.5 L247.5,426.8 L250.0,426.5 L252.5,425.9 L255.0,425.5 L257.5,427.0 L260.0,428.5 L262.0,428.2 L264.0,429.0 L265.8,429.5 L267.5,429.7 L269.2,430.1 L271.0,430.0 L273.0,430.3 L275.0,430.5 L277.5,432.0 L280.0,433.0 L281.7,433.5 L283.3,433.0 L285.0,433.3 L286.7,433.6 L288.3,433.5 L290.0,433.5 L291.7,433.8 L293.3,433.9 L295.0,434.2 L296.7,434.3 L298.3,434.2 L300.0,433.5 L301.7,433.3 L303.3,433.3 L305.0,433.0 L306.7,432.7 L308.3,433.6 L310.0,433.5 L311.7,433.8 L313.3,434.4 L315.0,434.0 L316.7,434.6 L318.3,434.2 L320.0,434.7 L322.1,434.7 L324.1,435.1 L326.2,435.0 L328.3,434.4 L330.4,434.8 L332.5,434.7 L334.2,434.1 L336.0,434.3 L338.0,433.5 L340.0,433.5 L342.5,432.5 L344.4,432.1 L346.2,432.9 L348.1,432.3 L350.0,432.8 L351.9,432.6 L353.8,432.8 L355.6,433.4 L357.5,433.0 L359.2,432.9 L360.8,433.7 L362.5,434.2 L364.4,434.3 L366.2,434.7 L368.1,434.6 L370.0,434.3 L371.7,434.7 L373.3,434.1 L375.0,434.3 L376.7,434.3 L378.3,434.9 L380.0,435.1 L381.7,434.2 L383.3,434.3 L385.0,434.7 L386.8,434.4 L388.6,434.4 L390.4,434.7 L392.1,434.8 L393.9,434.4 L395.7,434.2 L397.5,434.7 L399.4,435.5 L401.2,436.5 L403.0,436.2 L404.7,436.3 L406.5,436.6 L408.2,436.2 L410.0,435.9 L411.7,435.9 L413.3,435.9 L415.0,435.9 L416.7,435.1 L418.3,436.0 L420.0,435.5 L422.0,436.0 L424.0,436.3 L426.0,436.1 L427.6,436.5 L429.2,436.2 L430.9,436.3 L432.5,436.5 L434.2,436.7 L435.8,438.0 L437.5,438.5 L439.2,438.3 L441.0,439.1 L443.0,438.9 L445.0,439.7 L446.9,439.5 L448.8,439.5 L450.6,439.7 L452.5,440.0 L454.4,439.5 L456.2,439.4 L458.1,439.5 L460.0,439.9 L461.9,439.4 L463.8,439.6 L465.6,439.2 L467.5,439.7 L470.0,440.1 L471.7,440.4 L473.3,440.0 L475.0,439.7 L476.8,439.2 L478.5,439.2 L480.2,439.2 L482.0,439.2 L483.5,437.9 L485.0,439.4 L486.7,438.9 L488.3,438.3 L490.0,438.4 L492.0,438.8 L493.9,438.9 L495.9,438.4 L497.9,438.4 L499.3,436.8 L500.9,438.4 L503.0,438.4 L505.1,437.9 L507.2,438.4 L509.1,438.1 L511.1,438.4 L513.0,438.7 L513,448 Z"/>
<path fill="#b9c4f6" d="M513,448 L513.0,438.7 L521.0,439.1 L527.7,438.8 L529.7,437.2 L531.7,439.1 L534.7,437.2 L536.7,438.5 L539.7,437.8 L553.6,437.8 L555.6,439.1 L561.6,439.1 L563.6,440.1 L565.6,439.1 L572.0,439.3 L579.0,439.3 L579.5,448 Z"/>
<g shape-rendering="crispEdges">
<rect x="70" y="411" width="1" height="37" fill="#fff"/>
<rect x="197" y="411" width="1" height="37" fill="#fff"/>
<rect x="326" y="411" width="1" height="37" fill="#fff"/>
<rect x="453" y="411" width="1" height="37" fill="#fff"/>
</g>
<polyline fill="none" stroke="#999999" stroke-width="1.2" stroke-linejoin="round" points="10.5,422.5 11.0,422.2 13.0,427.2 14.2,423.5 15.5,432.2 17.0,428.5 19.2,429.7 20.5,433.5 22.0,431.0 23.8,431.4 25.5,432.2 27.2,431.2 29.0,431.0 31.0,430.9 33.0,430.5 35.0,430.5 37.0,431.5 38.8,431.9 40.5,432.2 42.8,432.2 45.0,432.5 47.1,432.5 49.2,433.5 51.7,429.7 53.4,429.4 55.0,429.0 58.0,428.0 61.0,427.3 62.6,426.4 64.2,426.5 66.0,427.0 67.5,424.7 69.2,428.5 71.7,431.5 73.6,432.2 75.5,433.0 77.2,432.8 79.0,433.5 81.0,433.0 83.0,433.5 84.7,432.6 86.3,432.2 88.0,431.0 90.0,430.8 92.0,431.5 93.8,430.9 95.5,431.0 97.2,431.4 99.0,431.5 101.0,431.5 103.0,430.5 105.0,430.0 107.0,429.3 110.0,428.0 113.0,430.5 115.0,430.8 117.0,431.3 118.8,432.3 120.5,432.2 122.2,432.1 124.0,433.0 126.0,433.9 128.0,434.0 129.7,433.6 131.3,433.3 133.0,433.5 134.7,433.1 136.3,433.3 138.0,433.5 140.0,433.5 142.0,432.8 143.8,432.3 145.5,432.5 148.0,433.5 149.7,433.6 151.3,433.7 153.0,433.5 154.7,433.7 156.3,434.2 158.0,434.5 159.7,434.4 161.3,434.7 163.0,435.5 165.0,435.3 167.0,435.8 168.8,436.1 170.5,436.0 172.2,435.6 174.0,435.1 175.8,435.1 177.5,434.7 179.2,434.5 181.0,434.5 183.7,435.5 185.8,435.4 187.9,436.2 190.0,436.0 192.1,436.4 194.1,436.1 196.2,436.5 198.0,436.1 201.2,434.7 203.1,435.0 205.0,435.1 206.7,435.0 208.3,435.2 210.0,434.7 212.0,434.4 214.0,433.5 216.3,432.6 218.7,432.2 220.8,432.4 223.0,431.5 225.2,430.8 227.5,431.0 229.2,430.3 231.0,429.8 233.0,429.7 235.0,429.0 237.0,428.1 239.0,428.0 240.8,427.6 242.5,427.2 245.0,425.5 247.5,426.8 250.0,426.5 252.5,425.9 255.0,425.5 257.5,427.0 260.0,428.5 262.0,428.2 264.0,429.0 265.8,429.5 267.5,429.7 269.2,430.1 271.0,430.0 273.0,430.3 275.0,430.5 277.5,432.0 280.0,433.0 281.7,433.5 283.3,433.0 285.0,433.3 286.7,433.6 288.3,433.5 290.0,433.5 291.7,433.8 293.3,433.9 295.0,434.2 296.7,434.3 298.3,434.2 300.0,433.5 301.7,433.3 303.3,433.3 305.0,433.0 306.7,432.7 308.3,433.6 310.0,433.5 311.7,433.8 313.3,434.4 315.0,434.0 316.7,434.6 318.3,434.2 320.0,434.7 322.1,434.7 324.1,435.1 326.2,435.0 328.3,434.4 330.4,434.8 332.5,434.7 334.2,434.1 336.0,434.3 338.0,433.5 340.0,433.5 342.5,432.5 344.4,432.1 346.2,432.9 348.1,432.3 350.0,432.8 351.9,432.6 353.8,432.8 355.6,433.4 357.5,433.0 359.2,432.9 360.8,433.7 362.5,434.2 364.4,434.3 366.2,434.7 368.1,434.6 370.0,434.3 371.7,434.7 373.3,434.1 375.0,434.3 376.7,434.3 378.3,434.9 380.0,435.1 381.7,434.2 383.3,434.3 385.0,434.7 386.8,434.4 388.6,434.4 390.4,434.7 392.1,434.8 393.9,434.4 395.7,434.2 397.5,434.7 399.4,435.5 401.2,436.5 403.0,436.2 404.7,436.3 406.5,436.6 408.2,436.2 410.0,435.9 411.7,435.9 413.3,435.9 415.0,435.9 416.7,435.1 418.3,436.0 420.0,435.5 422.0,436.0 424.0,436.3 426.0,436.1 427.6,436.5 429.2,436.2 430.9,436.3 432.5,436.5 434.2,436.7 435.8,438.0 437.5,438.5 439.2,438.3 441.0,439.1 443.0,438.9 445.0,439.7 446.9,439.5 448.8,439.5 450.6,439.7 452.5,440.0 454.4,439.5 456.2,439.4 458.1,439.5 460.0,439.9 461.9,439.4 463.8,439.6 465.6,439.2 467.5,439.7 470.0,440.1 471.7,440.4 473.3,440.0 475.0,439.7 476.8,439.2 478.5,439.2 480.2,439.2 482.0,439.2 483.5,437.9 485.0,439.4 486.7,438.9 488.3,438.3 490.0,438.4 492.0,438.8 493.9,438.9 495.9,438.4 497.9,438.4 499.3,436.8 500.9,438.4 503.0,438.4 505.1,437.9 507.2,438.4 509.1,438.1 511.1,438.4 513.0,438.7"/>
<polyline fill="none" stroke="#7474c4" stroke-width="1.3" stroke-linejoin="round" points="513.0,438.7 521.0,439.1 527.7,438.8 529.7,437.2 531.7,439.1 534.7,437.2 536.7,438.5 539.7,437.8 553.6,437.8 555.6,439.1 561.6,439.1 563.6,440.1 565.6,439.1 572.0,439.3 579.0,439.3"/>
<rect x="71" y="435.5" width="13" height="10" fill="#f1f1f1"/>
<text x="71.06" y="444.00" font-size="10" fill="#000" textLength="12.04" lengthAdjust="spacingAndGlyphs">22</text>
<rect x="198" y="435.5" width="13" height="10" fill="#f1f1f1"/>
<text x="198.06" y="444.00" font-size="10" fill="#000" textLength="11.98" lengthAdjust="spacingAndGlyphs">23</text>
<rect x="327" y="435.5" width="13" height="10" fill="#f1f1f1"/>
<text x="327.07" y="444.00" font-size="10" fill="#000" textLength="11.81" lengthAdjust="spacingAndGlyphs">24</text>
<rect x="454" y="435.5" width="13" height="10" fill="#f1f1f1"/>
<text x="454.06" y="444.00" font-size="10" fill="#000" textLength="11.98" lengthAdjust="spacingAndGlyphs">25</text>
<g shape-rendering="crispEdges">
<rect x="513" y="411" width="1" height="37" fill="#19a9e6"/>
<rect x="579" y="411" width="1" height="37" fill="#19a9e6"/>
<rect x="11" y="448" width="494" height="11" fill="url(#trk)"/>
<rect x="10" y="448" width="577" height="1" fill="#000"/>
<rect x="505" y="448" width="82" height="12" fill="#000"/>
<rect x="506" y="449" width="80" height="10" fill="url(#thm)"/>
<rect x="507" y="415" width="14" height="30" fill="#000"/>
<rect x="508" y="416" width="12" height="28" fill="url(#hnd)"/>
<rect x="572" y="415" width="14" height="30" fill="#000"/>
<rect x="573" y="416" width="12" height="28" fill="url(#hnd)"/>
</g>
<path d="M516.2,424.8 L516.2,433.4 L511.5,429.1 Z" fill="#000"/>
<path d="M576.9,424.8 L576.9,433.4 L581.5,429.1 Z" fill="#000"/>
<g shape-rendering="crispEdges">
<rect x="10" y="459" width="631" height="1" fill="#000"/>
<rect x="10" y="10" width="1" height="450" fill="#000"/>
</g>
</svg>
</body></html>
